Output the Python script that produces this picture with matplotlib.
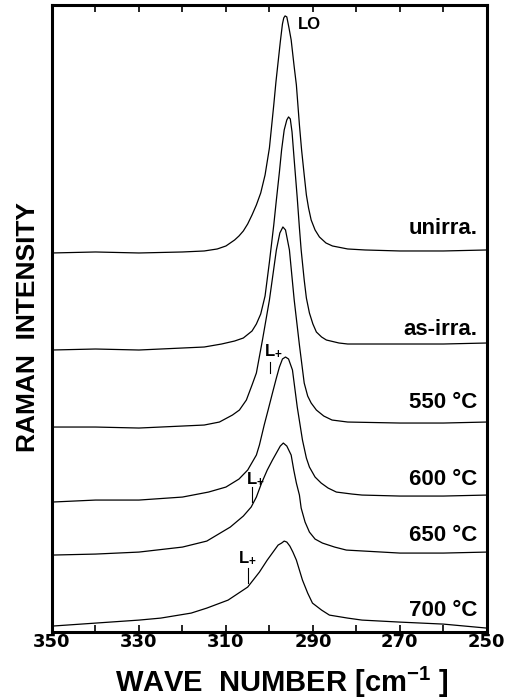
import matplotlib
matplotlib.use("Agg")
import matplotlib.pyplot as plt
import numpy as np

plt.rcParams['font.family'] = ['Liberation Sans', 'DejaVu Sans']
plt.rcParams['font.weight'] = 'bold'
plt.rcParams['mathtext.fontset'] = 'custom'
plt.rcParams['mathtext.rm'] = 'Liberation Sans:bold'
plt.rcParams['mathtext.bf'] = 'Liberation Sans:bold'
plt.rcParams['mathtext.it'] = 'Liberation Sans:bold'
plt.rcParams['mathtext.default'] = 'rm'

# stacked Raman spectra (arbitrary units incl. offset)
wn_unirra = [350, 340, 330, 320, 315, 312, 310, 308, 307, 306, 305, 304, 303, 302, 301, 300, 299,
             298.5, 298, 297.5, 297, 296.7, 296.4, 296, 295.5, 295, 294.3, 293.8, 293.1, 292.6, 292,
             291.5, 291, 290.4, 289.5, 288.5, 287, 285.5, 282, 278, 270, 260, 250]
int_unirra = [379, 380, 379, 380, 381, 383, 386, 392, 396, 401, 408, 417, 427, 439, 457, 484, 527,
              550, 570, 590, 608, 614, 616, 615, 604, 592, 565, 547, 507, 482, 457,
              437, 424, 412, 402, 395, 389, 386, 383, 382, 381, 381, 382]

wn_asirra = [350, 340, 330, 320, 315, 311, 308, 306, 304, 303, 302, 301, 300, 299, 298.4, 297.7,
             297.2, 296.6, 296, 295.6, 295.2, 294.8, 294.3, 293.6, 293.1, 292.7, 292, 291.5, 290.8,
             290, 289.2, 288, 286.9, 284, 282, 270, 260, 250]
int_asirra = [282, 283, 282, 284, 285, 288, 291, 294, 301, 308, 318, 336, 370, 407, 432, 460,
              482, 502, 512, 515, 513, 500, 472, 434, 404, 382, 352, 334, 319,
              308, 300, 295, 292, 289, 288, 288, 288, 289]

wn_550 = [350, 340, 330, 320, 315, 311.5, 308.5, 306.9, 305.3, 304, 303, 301.6, 300.8, 300, 299.2,
          298.4, 297.6, 296.9, 296.3, 295.4, 294.3, 293.1, 292, 291.2, 290.4, 289.2, 287.5, 285.6,
          282, 270, 260, 250]
int_550 = [205, 205, 204, 206, 207, 210, 217, 222, 232, 247, 259, 292, 312, 332, 357,
           382, 399, 405, 402, 382, 332, 287, 249, 236, 229, 222, 216, 212,
           210, 209, 209, 210]

wn_600 = [350, 340, 330, 320, 314, 310, 307, 305, 303, 302.3, 301.2, 300.3, 299.3, 298.4, 297.7,
          297, 296.3, 295.6, 294.7, 293.6, 292.4, 291.5, 290.8, 289.5, 288.1, 286.5, 284.6, 281,
          278.7, 270, 260, 250]
int_600 = [130, 132, 132, 135, 140, 145, 153, 162, 177, 187, 207, 222, 239, 254, 265,
           273, 275, 273, 262, 225, 192, 174, 165, 155, 149, 144, 140, 138,
           137, 136, 136, 137]

wn_650 = [350, 340, 330, 320, 314.4, 309, 306, 304.2, 303, 301.8, 300.5, 299.3, 298.4, 297.5,
          296.8, 296, 295, 294.4, 293.8, 293.1, 292.7, 291.8, 290.8, 289.5, 287.8, 285, 282.3,
          270, 260, 250]
int_650 = [77, 78, 80, 85, 91, 105, 116, 125, 135, 149, 162, 172, 179, 186,
           189, 186, 177, 162, 149, 137, 124, 110, 100, 93, 89, 85, 82,
           79, 79, 80]

wn_700 = [350, 340, 330, 325, 318, 314.4, 309.5, 305, 302.3, 300.5, 299, 298, 297.2, 296.6, 296,
          295.3, 294.6, 293.8, 292.4, 291.2, 290.1, 288, 286.2, 282, 278.7, 270, 260, 250]
int_700 = [6, 9, 12, 14, 19, 24, 32, 45, 60, 72, 81, 87, 89, 91, 90,
           86, 80, 72, 52, 39, 29, 22, 17, 14, 12, 10, 8, 4]

spectra = [(wn_unirra, int_unirra), (wn_asirra, int_asirra), (wn_550, int_550),
           (wn_600, int_600), (wn_650, int_650), (wn_700, int_700)]

sample_labels = ["unirra.", "as-irra.", "550 °C", "600 °C", "650 °C", "700 °C"]
label_heights = [403, 303, 230, 153, 97, 22]

# L+ coupled mode marks: (text x, text y, tick x, tick top, tick bottom)
lplus_marks = [(301.15, 277, 299.8, 270, 259),
               (305.3, 149, 304.0, 145, 130),
               (307.3, 70, 305.0, 64, 49)]

fig = plt.figure(figsize=(5.05, 7.0), dpi=100)
ax = fig.add_axes([0.103, 0.097, 0.861, 0.896])

for wn, inten in spectra:
    ax.plot(wn, inten, color='black', lw=0.9)

for lab, h in zip(sample_labels, label_heights):
    ax.text(252.1, h, lab, ha='right', va='center', fontsize=16, fontweight='bold')

ax.text(290.8, 607, "LO", ha='center', va='center', fontsize=12, fontweight='bold')

for tx, ty, kx, k1, k2 in lplus_marks:
    ax.text(tx, ty, r'L$_{+}$', ha='left', va='baseline', fontsize=12, fontweight='bold')
    ax.plot([kx, kx], [k1, k2], color='black', lw=0.8)

ax.set_xlim(350, 250)
ax.set_ylim(0, 627)
ax.set_xticks(np.arange(350, 249, -20))
ax.set_xticks(np.arange(350, 249, -10), minor=True)
ax.set_yticks([])
ax.tick_params(axis='x', which='both', direction='in', top=True, length=5, width=1.2, pad=1)
for lbl in ax.get_xticklabels():
    lbl.set_fontfamily('DejaVu Sans')
    lbl.set_fontweight('bold')
    lbl.set_fontsize(13)
for sp in ax.spines.values():
    sp.set_linewidth(2.2)

ax.set_xlabel(r'WAVE  NUMBER [cm$^{-1}$ ]', fontsize=21, fontweight='bold', va='center')
ax.xaxis.set_label_coords(0.529, -0.08)
ax.set_ylabel('RAMAN  INTENSITY', fontsize=19, fontweight='bold', va='center')
ax.yaxis.set_label_coords(-0.055, 0.486)

fig.savefig('out.png', dpi=100)
